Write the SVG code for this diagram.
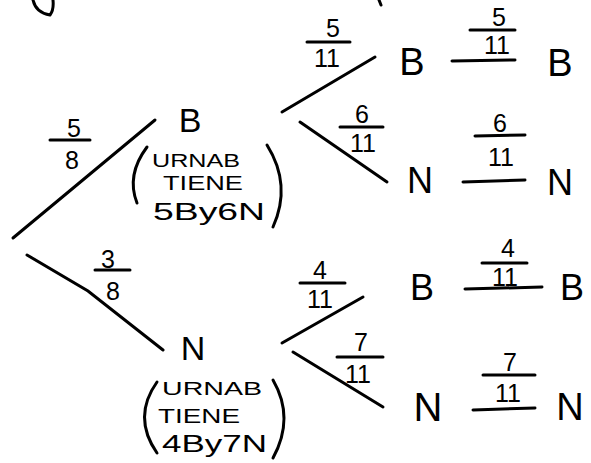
<svg xmlns="http://www.w3.org/2000/svg" width="591" height="463" viewBox="0 0 591 463">
<style>
.ln{stroke:#000;stroke-width:3;fill:none;stroke-linecap:round}
.bar{stroke:#000;stroke-width:3;fill:none;stroke-linecap:round}
.par{stroke:#000;stroke-width:3;fill:none;stroke-linecap:round}
.big{font-family:"Liberation Sans",Arial,sans-serif;fill:#000;text-anchor:middle}
.num{font-family:"Liberation Sans",Arial,sans-serif;font-size:25px;fill:#000;text-anchor:middle}
.sm{font-family:"Liberation Sans",Arial,sans-serif;fill:#000}
</style>
<rect width="591" height="463" fill="#fff"/>
<path class="ln" d="M33,0 Q36,13 50,15 Q54,10 53,0"/>
<path class="ln" d="M379,0 L381,5"/>
<g id="connectors">
<line class="ln" x1="13" y1="238" x2="155" y2="120"/>
<path class="ln" d="M27,255 L88,291 L163,350"/>
<line class="ln" x1="282" y1="112" x2="375" y2="57"/>
<line class="ln" x1="300" y1="122" x2="387" y2="182"/>
<line class="ln" x1="282" y1="343" x2="363" y2="297"/>
<line class="ln" x1="293" y1="352" x2="383" y2="407"/>
<line class="ln" x1="452" y1="61" x2="515" y2="60"/>
<line class="ln" x1="463" y1="182" x2="525" y2="180"/>
<line class="ln" x1="465" y1="289" x2="542" y2="287"/>
<line class="ln" x1="473" y1="410" x2="535" y2="408"/>
<g id="labels">
<line class="bar" x1="50" y1="140" x2="90" y2="140"/><text class="num" x="74" y="137">5</text><text class="num" x="72" y="169">8</text>
<line class="bar" x1="95" y1="270" x2="130" y2="270"/><text class="num" x="108" y="268">3</text><text class="num" x="113" y="300">8</text>
<line class="bar" x1="307" y1="42" x2="350" y2="42"/><text class="num" x="333" y="37">5</text><text class="num" x="327" y="67">11</text>
<line class="bar" x1="470" y1="30" x2="515" y2="30"/><text class="num" x="499" y="26">5</text><text class="num" x="497" y="54">11</text>
<line class="bar" x1="340" y1="127" x2="383" y2="127"/><text class="num" x="362" y="123">6</text><text class="num" x="363" y="152">11</text>
<line class="bar" x1="475" y1="136" x2="525" y2="135"/><text class="num" x="500" y="132">6</text><text class="num" x="501" y="166">11</text>
<line class="bar" x1="300" y1="283" x2="345" y2="283"/><text class="num" x="320" y="279">4</text><text class="num" x="320" y="308">11</text>
<line class="bar" x1="482" y1="263" x2="527" y2="263"/><text class="num" x="508" y="257">4</text><text class="num" x="505" y="286">11</text>
<line class="bar" x1="337" y1="357" x2="383" y2="357"/><text class="num" x="361" y="351">7</text><text class="num" x="358" y="383">11</text>
<line class="bar" x1="483" y1="375" x2="535" y2="375"/><text class="num" x="510" y="371">7</text><text class="num" x="508" y="402">11</text>
</g>
</g>
<g id="root-B">
<text class="big" x="190" y="132" font-size="34">B</text>
<path class="par" d="M147,147 Q126,175 137,203"/>
<path class="par" d="M267,145 Q292,185 273,227"/>
<text class="sm" x="152" y="167" font-size="19" textLength="88" lengthAdjust="spacingAndGlyphs">URNAB</text>
<text class="sm" x="163" y="190" font-size="20" textLength="80" lengthAdjust="spacingAndGlyphs">TIENE</text>
<text class="sm" x="153" y="220" font-size="23" textLength="112" lengthAdjust="spacingAndGlyphs">5By6N</text>
</g>
<g id="root-N">
<text class="big" x="193" y="360" font-size="34">N</text>
<path class="par" d="M157,382 Q132,417 157,453"/>
<path class="par" d="M273,380 Q295,418 273,458"/>
<text class="sm" x="162" y="395" font-size="19" textLength="100" lengthAdjust="spacingAndGlyphs">URNAB</text>
<text class="sm" x="158" y="423" font-size="20" textLength="82" lengthAdjust="spacingAndGlyphs">TIENE</text>
<text class="sm" x="162" y="452" font-size="23" textLength="105" lengthAdjust="spacingAndGlyphs">4By7N</text>
</g>
<g id="BB1"><text class="big" x="412" y="75" font-size="38">B</text></g>
<g id="BB2"><text class="big" x="560" y="76" font-size="38">B</text></g>
<g id="BN1"><text class="big" x="420" y="193" font-size="36">N</text></g>
<g id="BN2"><text class="big" x="560" y="195" font-size="36">N</text></g>
<g id="NB1"><text class="big" x="422" y="300" font-size="36">B</text></g>
<g id="NB2"><text class="big" x="572" y="300" font-size="36">B</text></g>
<g id="NN1"><text class="big" x="428" y="421" font-size="40">N</text></g>
<g id="NN2"><text class="big" x="570" y="420" font-size="38">N</text></g>
</svg>
